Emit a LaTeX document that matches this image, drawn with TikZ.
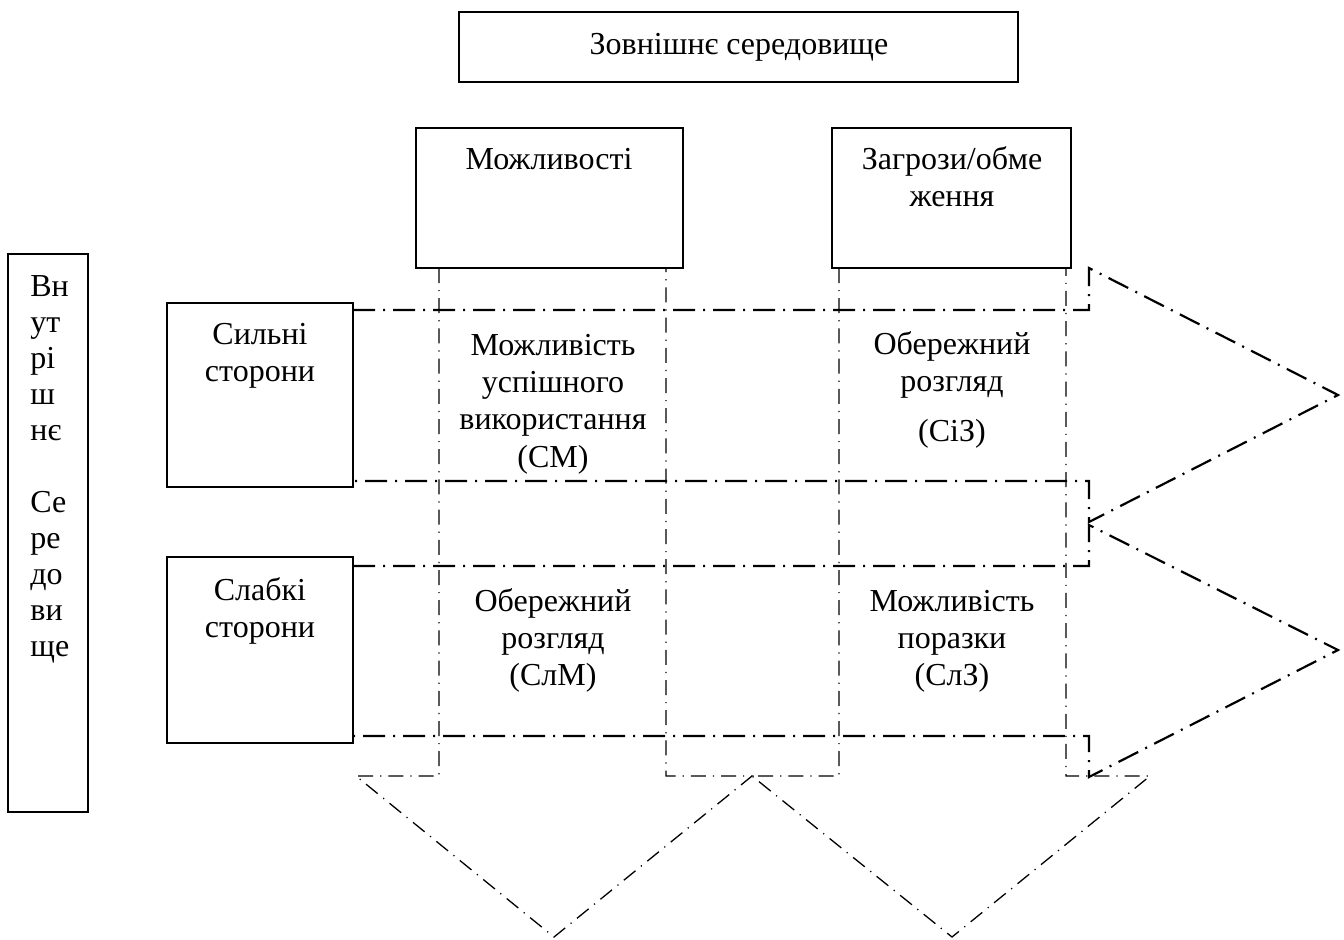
\documentclass[tikz,border=0pt]{standalone}
\usepackage{fontspec}
\setmainfont{Liberation Serif}
\begin{document}
\begin{tikzpicture}[x=0.5pt,y=-0.5pt,
  box/.style={draw, line width=0.8pt, inner sep=0pt, outer sep=0pt},
  txt/.style={font=\fontsize{16}{18.6}\selectfont, inner sep=0pt, align=center},
  rowarrow/.style={line width=1.1pt, dash pattern=on 11pt off 4pt on 1pt off 4pt},
  colarrow/.style={line width=0.65pt, dash pattern=on 7.5pt off 3.5pt on 0.6pt off 3.5pt}]
\useasboundingbox (0,0) rectangle (1344,939);

% dash-dot arrows (rows pointing right, columns pointing down)
\draw[colarrow] (439,268) -- (439,776) -- (356,776) -- (554,937) -- (752,776) -- (666,776) -- (666,268);
\draw[colarrow] (839,268) -- (839,776) -- (752,776) -- (952,937) -- (1150,776) -- (1066,776) -- (1066,268);
\draw[rowarrow] (353,310) -- (1089,310) -- (1089,268) -- (1338,395) -- (1089,522) -- (1089,481) -- (353,481);
\draw[rowarrow] (353,566) -- (1089,566) -- (1089,525) -- (1338,650) -- (1089,777) -- (1089,736) -- (353,736);

% boxes
\node[box, minimum width=279.5pt, minimum height=35pt] (outer) at (738.5,47) {};
\node[box, minimum width=133.5pt, minimum height=70pt] (opp) at (549.5,198) {};
\node[box, minimum width=119.5pt, minimum height=70pt] (thr) at (951.5,198) {};
\node[box, minimum width=40pt, minimum height=279pt] (inner) at (48,533) {};
\node[box, minimum width=93pt, minimum height=92pt] (str) at (260,395) {};
\node[box, minimum width=93pt, minimum height=93pt] (weak) at (260,650) {};

% texts
\node[txt, anchor=base] (touter) at (739,54) {Зовнішнє середовище};
\node[txt, anchor=base] (topp) at (549,169) {Можливості};
\node[txt, anchor=north] (tthr) at (952,143) {\strut Загрози/обме\\ження};
\node[txt, font=\fontsize{16}{18}\selectfont, align=left, anchor=north west] (tinner) at (30,271)
  {\strut Вн\\ут\\рі\\ш\\нє\\[18pt]Се\\ре\\до\\ви\\ще};
\node[txt, anchor=north] (tstr) at (260,318) {\strut Сильні\\сторони};
\node[txt, anchor=north] (tweak) at (260,574) {\strut Слабкі\\сторони};
\node[txt, anchor=north] (cSM) at (553,329) {\strut Можливість\\успішного\\використання\\(СМ)};
\node[txt, anchor=north] (cSZ) at (952,328) {\strut Обережний\\розгляд\\[6.5pt](СіЗ)};
\node[txt, anchor=north] (cWM) at (553,585) {\strut Обережний\\розгляд\\(СлМ)};
\node[txt, anchor=north] (cWZ) at (952,585) {\strut Можливість\\поразки\\(СлЗ)};
\end{tikzpicture}
\end{document}
